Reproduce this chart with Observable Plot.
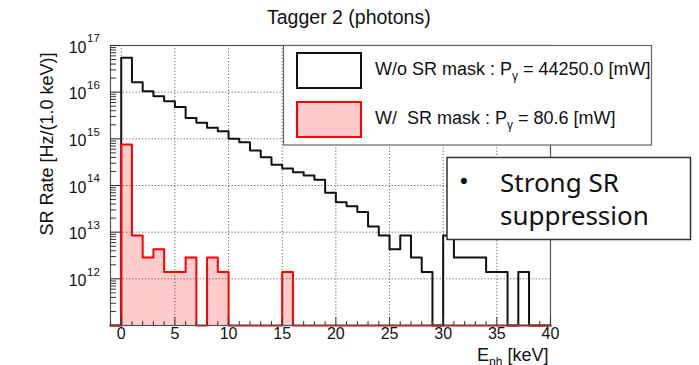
<!DOCTYPE html>
<html>
<head>
<meta charset="utf-8">
<script src="https://cdn.jsdelivr.net/npm/d3@7"></script>
<script src="https://cdn.jsdelivr.net/npm/@observablehq/plot@0.6"></script>
<style>
  body { margin: 0; background: #fff; }
  #chart { position: relative; width: 699px; height: 365px; overflow: hidden; }
  #chart svg { display: block; }
</style>
</head>
<body>
<div id="chart"></div>
<script>
// Lower edges of the 1 keV energy bins (histogram range -1 .. 40 keV)
const binLow = d3.range(-1, 40);

// SR photon rate per bin [Hz/(1.0 keV)] without the SR mask
const rateNoMask = [
  0, 5.45e16, 1.64e16, 1.05e16, 8.2e15, 6.4e15, 4.8e15, 2.8e15, 2.2e15, 1.73e15,
  1.46e15, 1.0e15, 8.5e14, 5.6e14, 4.05e14, 2.8e14, 2.3e14, 1.93e14, 1.64e14, 1.32e14,
  7.0e13, 4.4e13, 3.6e13, 2.7e13, 1.32e13, 8.5e12, 4.3e12, 8.5e12, 2.85e12, 1.4e12,
  0, 8.5e12, 2.85e12, 2.85e12, 2.85e12, 1.4e12, 1.4e12, 0, 1.4e12, 0, 0
];

// SR photon rate per bin [Hz/(1.0 keV)] with the SR mask
const rateMask = [
  0, 7.6e14, 8.5e12, 2.85e12, 4.3e12, 1.4e12, 1.4e12, 2.85e12, 0, 2.85e12,
  1.4e12, 0, 0, 0, 0, 0, 1.4e12, 0, 0, 0,
  0, 0, 0, 0, 0, 0, 0, 0, 0, 0,
  0, 0, 0, 0, 0, 0, 0, 0, 0, 0, 0
];

// Axis ticks
const yDecades = [1e12, 1e13, 1e14, 1e15, 1e16, 1e17];
const yGrid = [1e12, 1e13, 1e14, 1e15, 1e16];
const xMajor = [0, 5, 10, 15, 20, 25, 30, 35, 40];
const xGrid = [0, 5, 10, 15, 20, 25, 30, 35];

const legendLabels = [
  {pre: "W/o SR mask : P", sub: "γ", post: " = 44250.0 [mW]"},
  {pre: "W/\u00a0 SR mask : P", sub: "γ", post: " = 80.6 [mW]"}
];
const noteLines = ["Strong SR", "suppression"];

const yFloor = 1e11;
const yTop = 1e17;
const font = "'Liberation Sans', Arial, Helvetica, sans-serif";
const noteFont = "'Noto Sans', 'Open Sans', sans-serif";

// Minor log ticks (2..9 x 10^n)
const yMinor = [];
for (let e = 11; e < 17; e++) for (let m = 2; m <= 9; m++) yMinor.push(m * 10 ** e);
const xMinor = d3.range(-1, 41).filter(v => !xMajor.includes(v));

// Histogram outline as step points: both edges of every bin
function outline(values) {
  const pts = [];
  values.forEach((v, i) => {
    const y = Math.max(v, yFloor);
    pts.push({x: binLow[i], y}, {x: binLow[i] + 1, y});
  });
  return pts;
}
const stepNoMask = outline(rateNoMask);
const stepMask = outline(rateMask);

const W = 699, H = 365;
const mL = 110, mR = 149, mT = 45, mB = 40;
const frameW = W - mL - mR, frameH = H - mT - mB;

const plot = Plot.plot({
  width: W,
  height: H,
  marginLeft: mL,
  marginRight: mR,
  marginTop: mT,
  marginBottom: mB,
  style: {fontFamily: font, background: "transparent", overflow: "visible"},
  x: {domain: [-1, 40], axis: null},
  y: {type: "log", domain: [yFloor, yTop], axis: null},
  marks: [
    // dotted grid
    Plot.ruleY(yGrid, {stroke: "#666", strokeDasharray: "1.2,2", strokeWidth: 1}),
    Plot.ruleX(xGrid, {stroke: "#666", strokeDasharray: "1.2,2", strokeWidth: 1}),
    // histogram without mask
    Plot.line(stepNoMask, {x: "x", y: "y", stroke: "#111", strokeWidth: 2, curve: "linear"}),
    // histogram with mask
    Plot.area(stepMask, {x1: "x", y1: () => yFloor, y2: "y", fill: "#ff0000", fillOpacity: 0.2, curve: "linear"}),
    Plot.line(stepMask, {x: "x", y: "y", stroke: "#ff0000", strokeWidth: 2, curve: "linear"}),
    // frame
    Plot.frame({stroke: "#555", strokeWidth: 1.2}),
    // inward ticks on the left axis
    Plot.tickY(yDecades, {y: d => d, insetRight: frameW - 10, stroke: "#333"}),
    Plot.tickY(yMinor, {y: d => d, insetRight: frameW - 6, stroke: "#333"}),
    // inward ticks on the bottom axis
    Plot.tickX(xMajor, {x: d => d, insetTop: frameH - 8, stroke: "#333"}),
    Plot.tickX(xMinor, {x: d => d, insetTop: frameH - 4, stroke: "#333"}),
    // tick labels
    Plot.text(yDecades, {y: d => d, text: () => "10", frameAnchor: "left", textAnchor: "end", dx: -24, dy: 2, fontSize: 16, fill: "#111"}),
    Plot.text(yDecades, {y: d => d, text: d => String(Math.round(Math.log10(d))), frameAnchor: "left", textAnchor: "start", dx: -23.5, dy: -7, fontSize: 11.5, fill: "#111"}),
    Plot.text(xMajor, {x: d => d, text: d => String(d), frameAnchor: "bottom", dy: 13, fontSize: 16, fill: "#111"}),
    // y-axis title
    Plot.text(["SR Rate [Hz/(1.0 keV)]"], {frameAnchor: "top-left", rotate: -90, textAnchor: "end", dx: -70, dy: 7, fontSize: 18, fill: "#111"})
  ]
});

const container = document.getElementById("chart");
container.appendChild(plot);
const svg = d3.select(plot);

// Title
svg.append("text")
  .attr("x", 267).attr("y", 23.5)
  .attr("text-anchor", "start")
  .attr("font-family", font).attr("font-size", 19.5).attr("fill", "#111")
  .text("Tagger 2 (photons)");

// x-axis title with subscript
const xt = svg.append("text")
  .attr("x", 548.5).attr("y", 361)
  .attr("text-anchor", "end")
  .attr("font-family", font).attr("font-size", 18).attr("fill", "#111");
xt.append("tspan").text("E");
xt.append("tspan").attr("font-size", 12).attr("dy", 5).text("ph");
xt.append("tspan").attr("dy", -5).text(" [keV]");

// Legend
const lg = svg.append("g").attr("text-anchor", "start");
lg.append("rect")
  .attr("x", 283.5).attr("y", 45.5).attr("width", 368).attr("height", 99.5)
  .attr("fill", "#fff").attr("stroke", "#666").attr("stroke-width", 1.2);
const swatches = [
  {y: 53, stroke: "#111", fill: "#fff", fillOpacity: 1},
  {y: 102, stroke: "#ff0000", fill: "#ff0000", fillOpacity: 0.2}
];
swatches.forEach((s, i) => {
  lg.append("rect")
    .attr("x", 297).attr("y", s.y).attr("width", 64).attr("height", 35)
    .attr("fill", s.fill).attr("fill-opacity", s.fillOpacity)
    .attr("stroke", s.stroke).attr("stroke-width", 2);
  const t = lg.append("text")
    .attr("x", 375).attr("y", s.y + 22)
    .attr("font-family", font).attr("font-size", 18).attr("fill", "#111");
  const L = legendLabels[i];
  t.append("tspan").text(L.pre);
  t.append("tspan").attr("font-size", 12).attr("dy", 5).text(L.sub);
  t.append("tspan").attr("dy", -5).text(L.post);
});

// Annotation box
const nb = svg.append("g").attr("text-anchor", "start");
nb.append("rect")
  .attr("x", 447).attr("y", 157.5).attr("width", 243.5).attr("height", 82)
  .attr("fill", "#fff").attr("stroke", "#333").attr("stroke-width", 1.5);
nb.append("text")
  .attr("x", 464).attr("y", 190)
  .attr("text-anchor", "middle")
  .attr("font-family", noteFont).attr("font-size", 26).attr("fill", "#111")
  .text("•");
noteLines.forEach((line, i) => {
  nb.append("text")
    .attr("x", 500).attr("y", 191.5 + i * 33.5)
    .attr("font-family", noteFont).attr("font-size", 26).attr("fill", "#111")
    .text(line);
});
</script>
</body>
</html>
